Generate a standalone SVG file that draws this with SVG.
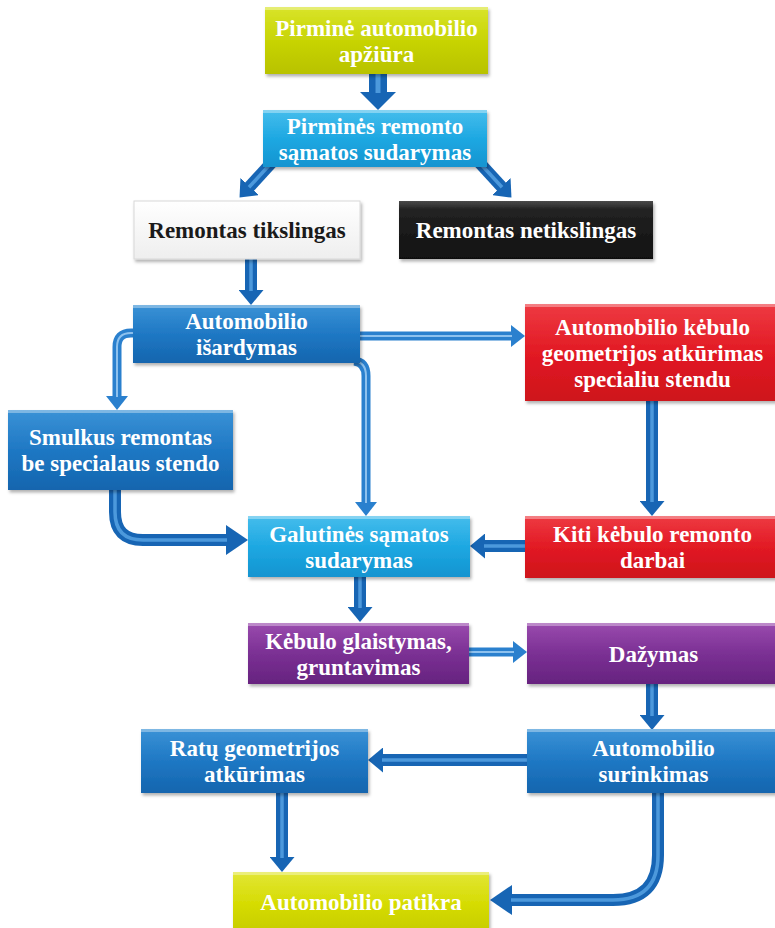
<svg xmlns="http://www.w3.org/2000/svg" width="775" height="928" viewBox="0 0 775 928">
<defs>
<linearGradient id="gLime" x1="0" y1="0" x2="0" y2="1"><stop offset="0" stop-color="#D9E42A"/><stop offset="0.5" stop-color="#C8D406"/><stop offset="1" stop-color="#B8C200"/></linearGradient>
<linearGradient id="gLime2" x1="0" y1="0" x2="0" y2="1"><stop offset="0" stop-color="#E2E636"/><stop offset="0.5" stop-color="#D6DC04"/><stop offset="1" stop-color="#C6CC00"/></linearGradient>
<linearGradient id="gCyan" x1="0" y1="0" x2="0" y2="1"><stop offset="0" stop-color="#45BDEC"/><stop offset="0.5" stop-color="#1EA8E2"/><stop offset="1" stop-color="#1394D0"/></linearGradient>
<linearGradient id="gBlue" x1="0" y1="0" x2="0" y2="1"><stop offset="0" stop-color="#3A92D6"/><stop offset="0.5" stop-color="#1F78C4"/><stop offset="1" stop-color="#1465AE"/></linearGradient>
<linearGradient id="gRed" x1="0" y1="0" x2="0" y2="1"><stop offset="0" stop-color="#EE3A42"/><stop offset="0.5" stop-color="#E21A24"/><stop offset="1" stop-color="#CE121B"/></linearGradient>
<linearGradient id="gPurple" x1="0" y1="0" x2="0" y2="1"><stop offset="0" stop-color="#9A4BAE"/><stop offset="0.5" stop-color="#7B3094"/><stop offset="1" stop-color="#66237F"/></linearGradient>
<linearGradient id="gBlack" x1="0" y1="0" x2="0" y2="1"><stop offset="0" stop-color="#4a4a4a"/><stop offset="0.15" stop-color="#222"/><stop offset="1" stop-color="#111"/></linearGradient>
<linearGradient id="gWhite" x1="0" y1="0" x2="0" y2="1"><stop offset="0" stop-color="#FFFFFF"/><stop offset="1" stop-color="#EEEEEE"/></linearGradient>
<filter id="sh" x="-10%" y="-20%" width="120%" height="150%"><feDropShadow dx="1.5" dy="2.5" stdDeviation="1.8" flood-color="#000" flood-opacity="0.3"/></filter>
<marker id="ah" markerUnits="userSpaceOnUse" viewBox="0 0 15 25" markerWidth="15" markerHeight="25" refX="1" refY="12.5" orient="auto"><path d="M0,0 L15,12.5 L0,25 Z" fill="#1765B4"/></marker>
<marker id="ahL" markerUnits="userSpaceOnUse" viewBox="0 0 14 22" markerWidth="14" markerHeight="22" refX="1" refY="11" orient="auto"><path d="M0,0 L14,11 L0,22 Z" fill="#2A80CE"/></marker>
<marker id="ahC" markerUnits="userSpaceOnUse" viewBox="0 0 22 30" markerWidth="22" markerHeight="30" refX="1" refY="15" orient="auto"><path d="M0,0 L22,15 L0,30 Z" fill="#1765B4"/></marker>
<marker id="ahB" markerUnits="userSpaceOnUse" viewBox="0 0 18 36" markerWidth="18" markerHeight="36" refX="1" refY="18" orient="auto"><path d="M0,0 L18,18 L0,36 Z" fill="#1765B4"/></marker>
</defs>
<style>
.box{filter:url(#sh);}
.hl{fill:#fff;opacity:0.35;}
.t{font-family:"Liberation Serif","Times New Roman",serif;font-weight:bold;font-size:23px;fill:#fff;text-anchor:middle;}
.td{fill:#1a1a1a;}
.c{fill:none;stroke:#1765B4;stroke-width:12;}
.ch{fill:none;stroke:#5AA6E6;stroke-width:3.5;opacity:0.8;}
.cl{fill:none;stroke:#2A80CE;stroke-width:9;}
.clh{fill:none;stroke:#9FCDF3;stroke-width:2;opacity:0.85;}
</style>
<rect width="775" height="928" fill="#fff"/>
<g id="connectors">
<path class="c" d="M378,74 V93" style="stroke-width:18" marker-end="url(#ahB)"/>
<path class="ch" d="M378,74 V93" style="stroke-width:5"/>
<path class="c" d="M274,160 L249,187.3" marker-end="url(#ah)"/>
<path class="ch" d="M274,160 L249,187.3"/>
<path class="c" d="M477,160 L502,187.3" marker-end="url(#ah)"/>
<path class="ch" d="M477,160 L502,187.3"/>
<path class="c" d="M251,259 V291" marker-end="url(#ah)"/>
<path class="ch" d="M251,259 V291"/>
<path class="cl" d="M358,336 H512" marker-end="url(#ahL)"/>
<path class="clh" d="M358,336 H512"/>
<path class="cl" d="M136,333 H131 Q117,333 117,347 V397" marker-end="url(#ahL)"/>
<path class="clh" d="M136,333 H131 Q117,333 117,347 V397"/>
<path class="cl" d="M354,361 Q366,362 366,376 V503" marker-end="url(#ahL)"/>
<path class="clh" d="M354,361 Q366,362 366,376 V503"/>
<path class="c" d="M652,400 V502" marker-end="url(#ah)"/>
<path class="ch" d="M652,400 V502"/>
<path class="c" d="M115,489 V512 Q115,540 143,540 H227" marker-end="url(#ahC)"/>
<path class="ch" d="M115,489 V512 Q115,540 143,540 H227"/>
<path class="c" d="M526,546 H484" marker-end="url(#ah)"/>
<path class="ch" d="M526,546 H484"/>
<path class="c" d="M360,577 V608" marker-end="url(#ah)"/>
<path class="ch" d="M360,577 V608"/>
<path class="cl" d="M469,652 H514" marker-end="url(#ahL)"/>
<path class="clh" d="M469,652 H514"/>
<path class="c" d="M652,684 V716" marker-end="url(#ah)"/>
<path class="ch" d="M652,684 V716"/>
<path class="c" d="M528,760 H382" marker-end="url(#ah)"/>
<path class="ch" d="M528,760 H382"/>
<path class="c" d="M282,793 V858" marker-end="url(#ah)"/>
<path class="ch" d="M282,793 V858"/>
<path class="c" d="M658,793 V855 Q658,900 613,900 H511" marker-end="url(#ahC)"/>
<path class="ch" d="M658,793 V855 Q658,900 613,900 H511"/>
</g>
<g id="n1"><rect class="box" x="265" y="7" width="223" height="67" fill="url(#gLime)"/><rect class="hl" x="265" y="7" width="223" height="3"/><text class="t" x="376.5" y="36">Pirminė automobilio</text><text class="t" x="376.5" y="62">apžiūra</text></g>
<g id="n2"><rect class="box" x="263" y="110" width="224" height="57" fill="url(#gCyan)"/><rect class="hl" x="263" y="110" width="224" height="3"/><text class="t" x="375" y="134">Pirminės remonto</text><text class="t" x="375" y="160">sąmatos sudarymas</text></g>
<g id="n3"><rect class="box" x="134" y="201" width="226" height="58" fill="url(#gWhite)" stroke="#d8d8d8"/><text class="t td" x="247" y="238">Remontas tikslingas</text></g>
<g id="n4"><rect class="box" x="399" y="201" width="254" height="58" fill="url(#gBlack)"/><text class="t" x="526" y="238">Remontas netikslingas</text></g>
<g id="n5"><rect class="box" x="133" y="305" width="227" height="58" fill="url(#gBlue)"/><rect class="hl" x="133" y="305" width="227" height="3"/><text class="t" x="246.5" y="329">Automobilio</text><text class="t" x="246.5" y="355">išardymas</text></g>
<g id="n6"><rect class="box" x="525" y="304" width="255" height="97" fill="url(#gRed)"/><rect class="hl" x="525" y="304" width="255" height="3"/><text class="t" x="652.5" y="335">Automobilio kėbulo</text><text class="t" x="652.5" y="361">geometrijos atkūrimas</text><text class="t" x="652.5" y="387">specialiu stendu</text></g>
<g id="n7"><rect class="box" x="8" y="410" width="225" height="80" fill="url(#gBlue)"/><rect class="hl" x="8" y="410" width="225" height="3"/><text class="t" x="120.5" y="445">Smulkus remontas</text><text class="t" x="120.5" y="471">be specialaus stendo</text></g>
<g id="n8"><rect class="box" x="248" y="516" width="222" height="61" fill="url(#gCyan)"/><rect class="hl" x="248" y="516" width="222" height="3"/><text class="t" x="359" y="542">Galutinės sąmatos</text><text class="t" x="359" y="568">sudarymas</text></g>
<g id="n9"><rect class="box" x="525" y="516" width="255" height="62" fill="url(#gRed)"/><rect class="hl" x="525" y="516" width="255" height="3"/><text class="t" x="652.5" y="542">Kiti kėbulo remonto</text><text class="t" x="652.5" y="568">darbai</text></g>
<g id="n10"><rect class="box" x="248" y="623" width="221" height="61" fill="url(#gPurple)"/><rect class="hl" x="248" y="623" width="221" height="3"/><text class="t" x="358.5" y="649">Kėbulo glaistymas,</text><text class="t" x="358.5" y="675">gruntavimas</text></g>
<g id="n11"><rect class="box" x="527" y="623" width="253" height="61" fill="url(#gPurple)"/><rect class="hl" x="527" y="623" width="253" height="3"/><text class="t" x="653.5" y="662">Dažymas</text></g>
<g id="n12"><rect class="box" x="141" y="729" width="227" height="64" fill="url(#gBlue)"/><rect class="hl" x="141" y="729" width="227" height="3"/><text class="t" x="254.5" y="756">Ratų geometrijos</text><text class="t" x="254.5" y="782">atkūrimas</text></g>
<g id="n13"><rect class="box" x="527" y="729" width="253" height="64" fill="url(#gBlue)"/><rect class="hl" x="527" y="729" width="253" height="3"/><text class="t" x="653.5" y="756">Automobilio</text><text class="t" x="653.5" y="782">surinkimas</text></g>
<g id="n14"><rect class="box" x="233" y="872" width="256" height="62" fill="url(#gLime2)"/><rect class="hl" x="233" y="872" width="256" height="3"/><text class="t" x="361" y="910">Automobilio patikra</text></g>
</svg>
